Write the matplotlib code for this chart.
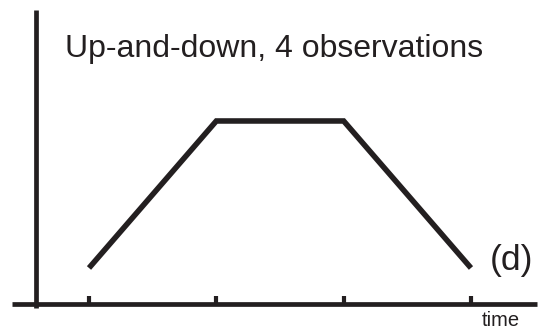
import matplotlib
matplotlib.use("Agg")
import matplotlib.pyplot as plt

# Four equally spaced observations: rise, plateau, fall
time_points = [1, 2, 3, 4]
levels = [1, 4, 4, 1]

title_text = "Up-and-down, 4 observations"
panel_label = "(d)"
x_label = "time"

INK = "#231f20"
W, H = 548, 331

plt.rcParams["font.family"] = ["Liberation Sans", "DejaVu Sans"]

fig = plt.figure(figsize=(W / 100, H / 100), dpi=100)
ax = fig.add_axes([0, 0, 1, 1])
ax.set_xlim(0.301, 4.605)
ax.set_ylim(-0.286, 6.469)

ax.plot(time_points, levels, color=INK, lw=4.0,
        solid_capstyle="butt", solid_joinstyle="miter")

# Axes drawn as spines crossing near the origin
for side in ("top", "right"):
    ax.spines[side].set_visible(False)
ax.spines["bottom"].set_position(("data", 0.265))
ax.spines["bottom"].set_bounds(0.395, 4.518)
ax.spines["left"].set_position(("data", 0.580))
ax.spines["left"].set_bounds(0.184, 6.265)
for side in ("bottom", "left"):
    ax.spines[side].set_color(INK)
    ax.spines[side].set_linewidth(3.4)
    ax.spines[side].set_capstyle("butt")

ax.set_xticks(time_points)
ax.tick_params(axis="x", direction="in", length=5.5, width=3.0,
               color=INK, labelbottom=False)
ax.set_yticks([])
ax.patch.set_visible(False)

fig.text(65 / W, 1 - 57 / H, title_text, fontsize=23, color=INK,
         ha="left", va="baseline")
fig.text(490 / W, 1 - 270 / H, panel_label, fontsize=25.5, color=INK,
         ha="left", va="baseline")
fig.text(482 / W, 1 - 326 / H, x_label, fontsize=14.5, color=INK,
         ha="left", va="baseline")

fig.savefig("out.png", dpi=100)
